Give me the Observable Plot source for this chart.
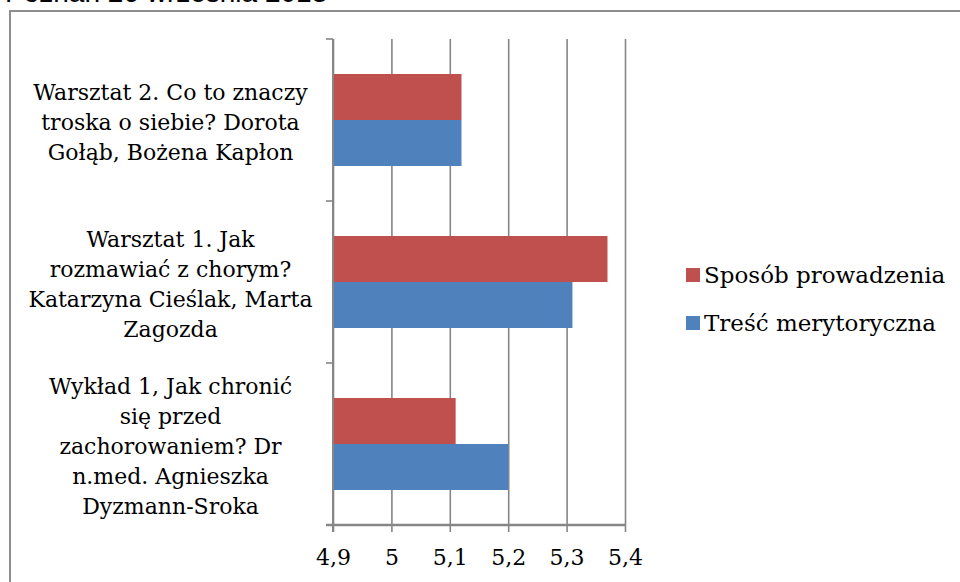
<!DOCTYPE html>
<html>
<head>
<meta charset="utf-8">
<script src="https://cdn.jsdelivr.net/npm/d3@7"></script>
<script src="https://cdn.jsdelivr.net/npm/@observablehq/plot@0.6"></script>
<style>
  html, body { margin: 0; padding: 0; background: #fff; overflow: hidden; }
  #page { position: relative; width: 960px; height: 582px; overflow: hidden; }
  #title { position: absolute; left: 5px; top: -21px; font-family: "Liberation Sans", sans-serif; font-size: 28px; line-height: 28px; white-space: nowrap; color: #000; }
  #border { position: absolute; left: 9px; top: 10px; width: 1000px; height: 700px; border: 2px solid #8e8e8e; box-sizing: border-box; }
  #chart { position: absolute; left: 0; top: 0; }
  #legend { position: absolute; left: 686px; top: 251px; font-family: "DejaVu Serif", serif; font-size: 23px; color: #000; }
  .row { display: flex; align-items: center; height: 48px; white-space: nowrap; }
  .sw { width: 14px; height: 14px; margin-right: 4px; flex: none; }
</style>
</head>
<body>
<div id="page">
  <div id="title"></div>
  <div id="border"></div>
  <div id="chart"></div>
  <div id="legend"></div>
</div>
<script>
const titleText = "Poznań 26 września 2013";
const categories = [
  "Warsztat 2. Co to znaczy\ntroska o siebie? Dorota\nGołąb, Bożena Kapłon",
  "Warsztat 1. Jak\nrozmawiać z chorym?\nKatarzyna Cieślak, Marta\nZagozda",
  "Wykład 1, Jak chronić\nsię przed\nzachorowaniem? Dr\nn.med. Agnieszka\nDyzmann-Sroka"
];
const series = ["Sposób prowadzenia", "Treść merytoryczna"];
const sposobProwadzenia = [5.12, 5.37, 5.11];
const trescMerytoryczna = [5.12, 5.31, 5.20];
const seriesColors = ["#C0504D", "#4F81BD"];
const xTicks = [4.9, 5.0, 5.1, 5.2, 5.3, 5.4];

const values = [sposobProwadzenia, trescMerytoryczna];
const data = [];
categories.forEach((c, i) => series.forEach((s, j) => data.push({category: c, series: s, value: values[j][i]})));

document.getElementById("title").textContent = titleText;

const gridColor = "#868686";

const plot = Plot.plot({
  width: 960,
  height: 582,
  marginLeft: 333,
  marginRight: 335,
  marginTop: 38,
  marginBottom: 56,
  style: {fontFamily: "DejaVu Serif, serif", fontSize: "22px", color: "#000", background: "transparent"},
  x: {domain: [xTicks[0], xTicks[xTicks.length - 1]], clamp: true},
  y: {domain: series, paddingInner: 0, paddingOuter: 0.75, axis: null},
  fy: {domain: categories, padding: 0},
  color: {domain: series, range: seriesColors},
  marks: [
    Plot.gridX(xTicks, {stroke: gridColor, strokeOpacity: 1, strokeWidth: 1.6}),
    Plot.barX(data, {x: "value", y: "series", fy: "category", fill: "series", inset: 0}),
    Plot.axisFy({anchor: "left", tickSize: 0, tickPadding: 163, textAnchor: "middle", lineHeight: 1.36, fontSize: 22, label: null}),
    Plot.axisX({ticks: xTicks, tickFormat: d => String(d).replace(".", ","), tickSize: 7, tickPadding: 17, fontSize: 22, stroke: gridColor, strokeWidth: 1.6, label: null})
  ]
});
document.getElementById("chart").appendChild(plot);

// Category boundary ticks and bottom axis line drawn from the plot's own scales
const xs = plot.scale("x");
const fys = plot.scale("fy");
const svg = d3.select(plot);
const x0 = xs.apply(xTicks[0]);
const x1 = xs.apply(xTicks[xTicks.length - 1]);
const bounds = categories.map(c => fys.apply(c));
bounds.push(fys.apply(categories[categories.length - 1]) + fys.bandwidth);
const g = svg.append("g").attr("stroke", gridColor).attr("stroke-width", 1.6);
const top0 = bounds[0], bottom0 = bounds[bounds.length - 1];
g.selectAll("line.b").data(bounds).join("line")
  .attr("x1", x0 - 7).attr("x2", x0).attr("y1", d => d).attr("y2", d => d);
g.append("line").attr("x1", x0 - 7).attr("x2", x1).attr("y1", bottom0).attr("y2", bottom0).attr("stroke-width", 2.4);
g.append("line").attr("x1", x0).attr("x2", x0).attr("y1", top0).attr("y2", bottom0 + 7).attr("stroke-width", 2);

// Legend
const legend = document.getElementById("legend");
series.forEach((s, i) => {
  const row = document.createElement("div");
  row.className = "row";
  const sw = document.createElement("span");
  sw.className = "sw";
  sw.style.background = seriesColors[i];
  const t = document.createElement("span");
  t.textContent = s;
  row.appendChild(sw);
  row.appendChild(t);
  legend.appendChild(row);
});
</script>
</body>
</html>
